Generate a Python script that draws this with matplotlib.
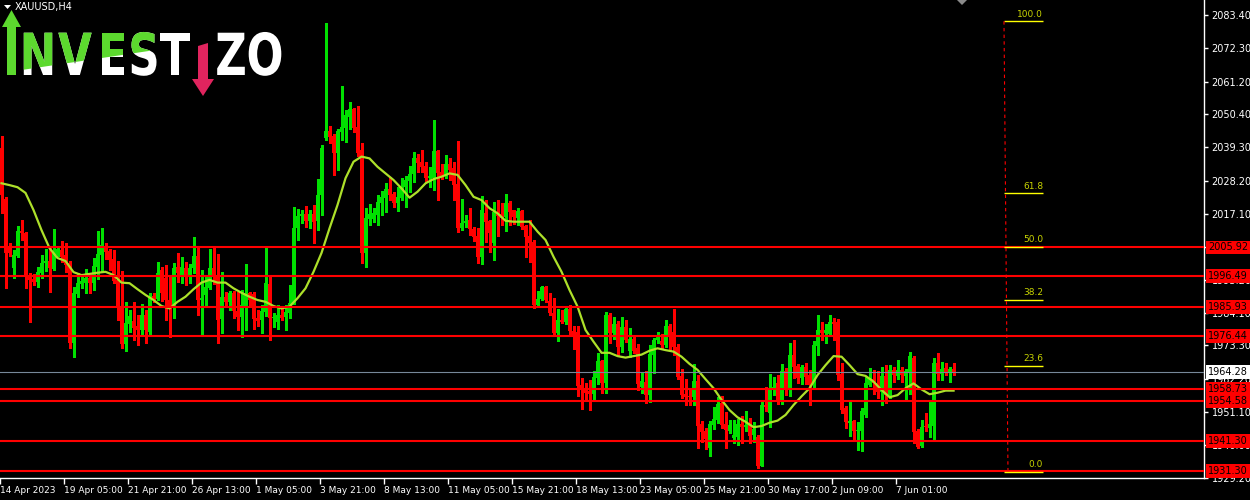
import matplotlib
matplotlib.use("Agg")
import matplotlib.pyplot as plt
import numpy as np
from matplotlib.patches import Polygon, PathPatch
from matplotlib.textpath import TextPath
from matplotlib.font_manager import FontProperties
from matplotlib.transforms import Affine2D, blended_transform_factory

# ---------------- data (XAUUSD H4) ----------------
opens = [
    2039.1, 2022.1, 2006.0, 1999.1, 2003.1, 2011.4, 2010.7, 1996.1, 1995.4, 1994.4,
    1997.4, 2000.7, 2001.4, 1998.7, 2003.4, 2005.1, 2003.4, 2000.7, 1974.1, 1990.4,
    1993.7, 1994.0, 1995.7, 1994.0, 1999.4, 2003.4, 2006.4, 2004.7, 2002.0, 1995.0,
    1986.0, 1973.7, 1980.4, 1981.4, 1979.7, 1978.4, 1983.4, 1977.7, 1989.7, 1988.7,
    1998.4, 1995.7, 1988.4, 1985.7, 1999.4, 1996.4, 1999.1, 1996.1, 1999.1, 2003.0,
    1988.4, 1990.1, 1992.4, 1999.1, 1996.7, 1982.1, 1989.4, 1987.7, 1990.7, 1984.9,
    1982.7, 1986.4, 1990.7, 1990.4, 1982.4, 1981.7, 1984.4, 1993.7, 1982.4, 1981.0,
    1983.4, 1982.7, 1984.1, 1987.1, 2012.4, 2016.4, 2017.0, 2014.7, 2017.1, 2014.7,
    2023.4, 2042.4, 2044.7, 2043.0, 2037.4, 2044.4, 2045.7, 2049.4, 2052.1, 2046.0,
    2038.4, 2004.1, 2015.4, 2015.4, 2016.7, 2020.7, 2022.4, 2025.4, 2023.7, 2020.7,
    2022.4, 2026.1, 2028.0, 2030.4, 2035.7, 2034.4, 2033.0, 2029.1, 2029.1, 2038.1,
    2031.0, 2030.0, 2033.7, 2032.4, 2027.0, 2012.4, 2014.1, 2015.1, 2012.1, 2009.7,
    2002.7, 2017.4, 2014.7, 2007.4, 2017.7, 2017.0, 2016.1, 2020.7, 2018.4, 2015.7,
    2018.1, 2013.0, 2009.7, 2007.7, 1986.7, 1988.7, 1992.7, 1988.0, 1984.1, 1977.4,
    1981.7, 1981.1, 1985.4, 1978.1, 1977.7, 1960.1, 1959.1, 1958.0, 1957.1, 1962.4,
    1968.1, 1960.7, 1983.4, 1977.4, 1980.4, 1972.7, 1979.4, 1971.4, 1975.4, 1972.4,
    1959.4, 1961.1, 1956.7, 1970.1, 1975.1, 1974.7, 1973.4, 1979.7, 1977.7, 1972.7,
    1963.0, 1957.0, 1956.4, 1956.1, 1961.4, 1947.1, 1944.7, 1939.1, 1946.7, 1948.4,
    1954.0, 1947.1, 1944.7, 1942.4, 1942.7, 1947.1, 1946.1, 1947.1, 1943.4, 1942.7,
    1933.1, 1953.4, 1950.7, 1958.4, 1960.7, 1954.7, 1964.7, 1958.4, 1970.1, 1966.4,
    1962.4, 1966.1, 1963.4, 1960.7, 1973.1, 1978.4, 1977.4, 1977.1, 1981.1, 1981.1,
    1963.7, 1952.4, 1947.4, 1948.1, 1944.7, 1944.7, 1950.1, 1960.1, 1962.1, 1960.7,
    1957.7, 1963.1, 1956.7, 1965.1, 1963.1, 1965.1, 1963.1, 1964.4, 1969.1, 1944.7,
    1939.7, 1946.4, 1945.7, 1946.4, 1967.4, 1963.7, 1965.7, 1964.4, 1965.4,
]
highs = [
    2043.0, 2022.7, 2007.4, 2005.1, 2013.1, 2015.1, 2011.1, 1997.4, 1997.1, 1999.4,
    2003.4, 2005.4, 2005.7, 2012.1, 2005.7, 2008.1, 2007.4, 2001.4, 1992.7, 1997.4,
    1997.1, 1998.7, 1997.4, 2002.4, 2011.4, 2012.4, 2007.4, 2005.4, 2005.0, 2001.4,
    1998.1, 1987.7, 1985.1, 1987.7, 1983.4, 1987.1, 1985.1, 1990.7, 1990.7, 2001.1,
    1999.4, 2000.0, 1996.7, 2000.7, 2004.1, 2002.7, 2001.1, 2000.4, 2009.4, 2006.4,
    1998.4, 1996.4, 2005.4, 2005.7, 2003.7, 1997.7, 1991.1, 1991.4, 1991.4, 1991.1,
    1991.7, 2000.4, 1991.1, 1991.1, 1985.1, 1986.7, 2006.1, 1996.4, 1984.1, 1986.7,
    1986.1, 1986.7, 1993.4, 2019.4, 2018.7, 2018.4, 2019.7, 2018.4, 2020.1, 2028.7,
    2040.1, 2080.7, 2046.4, 2043.7, 2045.4, 2059.7, 2051.7, 2054.4, 2052.4, 2053.0,
    2040.7, 2019.1, 2020.4, 2019.1, 2023.4, 2024.7, 2027.4, 2029.4, 2024.4, 2026.1,
    2029.1, 2029.7, 2033.1, 2037.7, 2037.1, 2038.4, 2034.4, 2032.7, 2048.4, 2038.4,
    2033.7, 2036.7, 2035.7, 2034.4, 2041.4, 2022.1, 2016.7, 2019.1, 2012.7, 2012.4,
    2023.0, 2021.7, 2015.1, 2021.1, 2021.7, 2020.7, 2023.7, 2021.4, 2018.4, 2019.1,
    2018.4, 2013.4, 2015.1, 2008.4, 1991.4, 1993.1, 1993.0, 1990.7, 1989.1, 1985.4,
    1985.1, 1986.1, 1986.7, 1979.7, 1979.7, 1962.4, 1960.7, 1961.7, 1964.7, 1970.7,
    1968.4, 1984.4, 1984.0, 1982.7, 1981.4, 1982.7, 1981.7, 1979.1, 1976.7, 1973.7,
    1964.0, 1964.7, 1973.4, 1975.7, 1977.7, 1977.1, 1981.7, 1980.4, 1985.4, 1973.7,
    1965.4, 1962.1, 1958.4, 1967.1, 1963.4, 1948.1, 1945.7, 1948.1, 1952.7, 1956.1,
    1956.4, 1951.1, 1948.4, 1948.4, 1948.7, 1949.7, 1951.4, 1949.1, 1947.7, 1943.4,
    1954.4, 1959.4, 1963.7, 1962.7, 1963.4, 1967.1, 1965.7, 1974.1, 1975.1, 1967.1,
    1966.7, 1967.4, 1965.1, 1974.7, 1983.4, 1981.1, 1980.4, 1983.4, 1982.4, 1982.1,
    1967.4, 1953.1, 1954.4, 1948.4, 1947.7, 1952.4, 1962.7, 1965.7, 1965.1, 1964.7,
    1966.1, 1966.7, 1966.7, 1966.1, 1968.4, 1966.1, 1965.4, 1971.1, 1969.7, 1945.4,
    1948.4, 1950.7, 1954.4, 1969.1, 1970.7, 1967.7, 1967.4, 1966.1, 1967.4,
]
lows = [
    2017.4, 1992.4, 2003.1, 1995.7, 2002.7, 2008.4, 1992.4, 1981.1, 1993.4, 1992.7,
    1995.7, 1998.1, 1991.1, 1998.4, 2003.0, 2001.1, 1997.7, 1972.4, 1969.4, 1989.4,
    1992.4, 1990.7, 1990.7, 1991.7, 1995.4, 1998.1, 2002.1, 1998.4, 1994.1, 1981.7,
    1972.4, 1971.4, 1977.7, 1975.0, 1973.4, 1976.7, 1974.1, 1976.4, 1987.7, 1988.4,
    1988.0, 1981.7, 1976.1, 1982.4, 1994.4, 1994.1, 1993.4, 1994.1, 1997.4, 1983.4,
    1976.7, 1986.7, 1992.1, 1993.7, 1974.1, 1977.4, 1986.7, 1985.0, 1982.4, 1978.4,
    1976.1, 1978.4, 1986.7, 1978.7, 1979.7, 1977.4, 1983.1, 1975.0, 1979.4, 1978.7,
    1981.7, 1978.4, 1982.4, 1987.1, 2008.4, 2014.1, 2012.7, 2012.4, 2007.4, 2011.7,
    2016.7, 2041.7, 2040.7, 2030.1, 2031.7, 2041.7, 2041.0, 2045.4, 2044.4, 2036.4,
    2000.7, 1999.4, 2013.4, 2014.4, 2013.4, 2016.7, 2017.7, 2021.7, 2019.4, 2018.0,
    2021.7, 2019.4, 2024.4, 2027.7, 2031.1, 2031.1, 2027.7, 2026.0, 2025.1, 2021.7,
    2028.7, 2029.1, 2028.4, 2021.7, 2011.1, 2011.7, 2012.7, 2010.1, 2008.1, 2000.7,
    2000.4, 2007.7, 2004.4, 2001.7, 2009.7, 2013.4, 2011.4, 2013.4, 2013.7, 2013.4,
    2012.1, 2002.7, 2001.1, 1985.7, 1986.0, 1988.4, 1987.7, 1983.4, 1977.1, 1974.7,
    1980.7, 1980.4, 1977.0, 1972.1, 1956.4, 1952.1, 1955.4, 1951.7, 1954.7, 1960.4,
    1957.4, 1957.4, 1974.1, 1975.4, 1970.0, 1971.1, 1974.4, 1969.4, 1970.7, 1958.4,
    1957.4, 1954.1, 1954.4, 1964.0, 1974.1, 1972.4, 1972.7, 1971.7, 1970.1, 1962.1,
    1955.7, 1953.4, 1953.4, 1953.4, 1939.1, 1941.1, 1938.7, 1936.4, 1945.4, 1947.4,
    1945.7, 1939.1, 1944.0, 1940.7, 1940.0, 1940.7, 1944.7, 1940.7, 1941.0, 1932.4,
    1933.1, 1951.4, 1946.1, 1956.7, 1953.7, 1953.7, 1956.7, 1956.4, 1962.4, 1960.7,
    1960.4, 1960.4, 1953.4, 1959.1, 1970.1, 1975.1, 1974.1, 1976.4, 1975.1, 1961.7,
    1950.7, 1945.7, 1943.1, 1941.7, 1938.4, 1938.1, 1949.4, 1959.7, 1957.1, 1955.7,
    1953.4, 1954.1, 1955.7, 1961.1, 1962.1, 1961.1, 1954.7, 1957.1, 1940.7, 1939.1,
    1939.4, 1944.7, 1942.7, 1941.7, 1961.7, 1961.7, 1963.4, 1961.1, 1963.4,
]
closes = [
    2023.4, 2004.1, 2004.1, 2003.4, 2011.4, 2010.7, 1996.1, 1995.1, 1994.4, 1997.8,
    2000.7, 2001.4, 1999.1, 2004.1, 2005.4, 2002.7, 2000.1, 1974.1, 1990.7, 1994.1,
    1994.7, 1995.7, 1994.1, 1999.7, 2003.7, 2006.7, 2004.4, 2001.7, 1994.7, 1986.1,
    1973.7, 1980.7, 1983.1, 1979.1, 1978.4, 1983.4, 1978.4, 1989.7, 1988.7, 1997.4,
    1990.7, 1988.4, 1985.7, 1999.1, 1997.4, 1999.4, 1996.1, 1999.1, 2003.1, 1988.4,
    1989.0, 1992.7, 1999.1, 1996.7, 1981.7, 1989.4, 1987.7, 1990.7, 1984.7, 1982.7,
    1986.7, 1990.7, 1988.4, 1982.1, 1981.4, 1984.7, 1994.1, 1982.4, 1982.7, 1983.4,
    1982.4, 1984.4, 1987.4, 2012.4, 2016.4, 2017.1, 2014.7, 2017.1, 2014.4, 2023.4,
    2039.1, 2044.7, 2042.7, 2037.4, 2044.7, 2046.1, 2050.1, 2052.1, 2045.7, 2037.4,
    2004.1, 2015.7, 2017.1, 2017.4, 2021.0, 2022.7, 2025.4, 2023.4, 2020.7, 2022.7,
    2026.4, 2028.4, 2030.4, 2035.7, 2034.1, 2032.7, 2029.1, 2029.7, 2038.1, 2030.7,
    2029.4, 2033.7, 2031.7, 2026.7, 2012.4, 2014.1, 2014.7, 2012.1, 2009.4, 2002.7,
    2018.4, 2014.4, 2010.7, 2017.7, 2016.4, 2015.7, 2020.7, 2017.7, 2016.1, 2018.1,
    2012.7, 2009.4, 2007.4, 1986.7, 1988.7, 1992.7, 1988.4, 1984.1, 1977.4, 1981.7,
    1981.1, 1985.4, 1978.1, 1976.7, 1959.7, 1958.7, 1957.4, 1957.0, 1962.7, 1968.1,
    1960.7, 1983.4, 1977.4, 1980.4, 1972.7, 1979.4, 1975.1, 1975.4, 1971.4, 1960.4,
    1961.4, 1956.7, 1970.4, 1975.1, 1976.1, 1973.4, 1979.7, 1976.1, 1972.7, 1962.7,
    1956.7, 1956.0, 1956.1, 1961.4, 1946.4, 1944.4, 1942.1, 1947.1, 1948.7, 1953.7,
    1946.7, 1945.0, 1946.7, 1943.4, 1947.1, 1946.1, 1946.7, 1943.1, 1945.4, 1933.1,
    1953.4, 1952.7, 1958.7, 1959.4, 1954.7, 1964.7, 1958.4, 1970.1, 1966.1, 1962.4,
    1966.1, 1962.7, 1960.1, 1973.4, 1978.4, 1977.4, 1978.4, 1981.1, 1980.4, 1963.4,
    1951.7, 1947.7, 1948.1, 1944.7, 1945.1, 1951.4, 1960.7, 1962.1, 1960.7, 1957.7,
    1963.1, 1956.7, 1965.1, 1963.4, 1965.1, 1963.4, 1964.7, 1969.7, 1944.4, 1939.4,
    1946.1, 1946.1, 1947.1, 1967.4, 1963.7, 1965.4, 1964.4, 1965.4, 1964.28,
]
# moving average line, one reading every 2 bars
ma_values = [
    2027.3, 2026.7, 2026.0, 2024.1, 2018.4, 2011.7, 2005.7, 2002.4, 2001.4, 1997.7,
    1996.7, 1997.1, 1997.5, 1997.8, 1996.7, 1994.2, 1994.0, 1992.0, 1990.1, 1988.4,
    1986.4, 1985.6, 1987.8, 1989.5, 1992.0, 1994.2, 1995.1, 1994.2, 1994.2, 1992.3,
    1990.8, 1989.5, 1988.4, 1987.8, 1986.4, 1985.6, 1986.2, 1989.0, 1992.3, 1997.8,
    2004.1, 2012.3, 2020.1, 2029.0, 2034.5, 2036.2, 2035.6, 2032.8, 2030.6, 2028.4,
    2025.6, 2022.5, 2024.5, 2027.3, 2028.7, 2029.5, 2030.6, 2030.1, 2026.7, 2022.8,
    2021.7, 2019.0, 2017.3, 2014.8, 2014.5, 2014.5, 2014.5, 2011.2, 2008.4, 2002.8,
    1997.8, 1991.7, 1986.2, 1978.4, 1974.5, 1970.8, 1970.8, 1969.7, 1969.2, 1969.7,
    1970.2, 1971.5, 1972.3, 1971.7, 1971.2, 1969.5, 1967.1, 1965.1, 1962.0, 1959.0,
    1955.1, 1951.7, 1949.3, 1947.8, 1946.0, 1946.4, 1947.5, 1948.2, 1950.1, 1953.4,
    1956.3, 1959.0, 1963.4, 1966.7, 1969.7, 1969.5, 1966.7, 1963.7, 1963.1, 1961.2,
    1958.4, 1956.0, 1956.7, 1959.0, 1960.6, 1958.6, 1957.0, 1957.5, 1958.2, 1958.2,
]
level_prices = [2005.92, 1996.49, 1985.93, 1976.44, 1958.73, 1954.58, 1941.30, 1931.30]
current_price = 1964.28
price_ticks = [2083.40, 2072.30, 2061.20, 2050.40, 2039.30, 2028.20, 2017.10, 2006.00,
               1995.20, 1984.10, 1973.30, 1962.20, 1951.10, 1940.00, 1929.20]
time_labels = ["14 Apr 2023", "19 Apr 05:00", "21 Apr 21:00", "26 Apr 13:00", "1 May 05:00",
               "3 May 21:00", "8 May 13:00", "11 May 05:00", "15 May 21:00", "18 May 13:00",
               "23 May 05:00", "25 May 21:00", "30 May 17:00", "2 Jun 09:00", "7 Jun 01:00"]
time_label_bars = [0, 16, 32, 48, 64, 80, 96, 112, 128, 144, 160, 176, 192, 208, 224]
fib_low, fib_high = 1931.1, 2081.3
fib_levels = [0.0, 23.6, 38.2, 50.0, 61.8, 100.0]
symbol_label = "XAUUSD,H4"

# ---------------- styling ----------------
BG = "black"
GREEN = "#00e000"
RED = "#ff0000"
MA_COLOR = "#ade02a"
FIB_LINE = "#ffff00"
FIB_TEXT = "#c8d400"

fig = plt.figure(figsize=(12.5, 5), dpi=100, facecolor=BG)
ax = fig.add_axes([0, 22 / 500, 1204 / 1250, 478 / 500])
ax.set_facecolor(BG)
ax.set_xlim(-0.375, 300.6)
ax.set_ylim(1929.07, 2088.4)

o = np.array(opens); h = np.array(highs); l = np.array(lows); c = np.array(closes)
idx = np.arange(len(c))
up = c >= o
cols = np.where(up, GREEN, RED)
ax.vlines(idx, l, h, colors=cols, linewidth=0.9, zorder=2, antialiased=False)
body = np.maximum(np.abs(c - o), 0.34)
ax.bar(idx, body, bottom=np.minimum(o, c), width=0.75, color=cols, linewidth=0,
       zorder=2.2, antialiased=False)

ax.plot(np.arange(len(ma_values)) * 2, ma_values, color=MA_COLOR, lw=1.6, zorder=2.5,
        solid_joinstyle="round")

for p in level_prices:
    ax.axhline(p, color=RED, lw=1.5, zorder=3)
ax.axhline(current_price, color="#778899", lw=0.8, zorder=2.9)

# fibonacci retracement
fx0, fx1 = 250.6, 260.4
for lv in fib_levels:
    p = fib_low + (fib_high - fib_low) * lv / 100.0
    ax.hlines(p, fx0, fx1, color=FIB_LINE, lw=1.0, zorder=4)
    ax.text(fx1, p + 0.9, f"{lv:.1f}", color=FIB_TEXT, fontsize=6.5, ha="right",
            va="bottom", zorder=4)
ax.plot([fx0, fx0 + 1.0], [fib_high, fib_low], color=RED, lw=0.8, ls=(0, (3, 3)), zorder=4)

# axes
for s in ["left", "top"]:
    ax.spines[s].set_visible(False)
for s in ["bottom", "right"]:
    ax.spines[s].set_color("white")
    ax.spines[s].set_linewidth(1.0)
ax.yaxis.tick_right()
ax.set_yticks(price_ticks, labels=[f"{v:.2f}" for v in price_ticks])
ax.tick_params(axis="y", colors="white", labelcolor="white", length=3, width=1,
               labelsize=7, pad=2.5)
ax.set_xticks(np.array(time_label_bars) - 0.375, labels=time_labels)
ax.tick_params(axis="x", colors="white", labelcolor="white", length=4, width=1,
               labelsize=6.5, pad=2)
for t in ax.get_xticklabels():
    t.set_ha("left")

# price labels on the right scale
bt = blended_transform_factory(ax.transAxes, ax.transData)
for p in level_prices:
    ax.text(1.0033, p, f"{p:.2f}", transform=bt, ha="left", va="center", fontsize=7,
            color="black", zorder=6, clip_on=False,
            bbox=dict(boxstyle="square,pad=0.2", fc=RED, ec="none"))
ax.text(1.0033, current_price, f"{current_price:.2f}", transform=bt, ha="left",
        va="center", fontsize=7, color="black", zorder=6, clip_on=False,
        bbox=dict(boxstyle="square,pad=0.2", fc="white", ec="none"))

# ---------------- overlay (pixel coords) ----------------
ov = fig.add_axes([0, 0, 1, 1], zorder=5)
ov.set_xlim(0, 1250)
ov.set_ylim(500, 0)
ov.axis("off")
ov.patch.set_visible(False)

ov.add_patch(Polygon([(4, 5), (11, 5), (7.5, 9)], closed=True, fc="white", ec="none"))
ov.text(15, 7, symbol_label, color="white", fontsize=7, va="center", ha="left")
ov.add_patch(Polygon([(957, 0), (967, 0), (962, 5)], closed=True, fc="#8a8a8a", ec="none"))

LOGO_GREEN = "#5cd92e"
LOGO_RED = "#e0245e"
fp = FontProperties(family="DejaVu Sans", weight="bold")
clip_poly = Polygon([(0, 0), (162, 0), (162, 49), (15, 71), (0, 71)], closed=True,
                    transform=ov.transData)


def logo_letter(ch, cx, two_tone, size=58, sx=0.75, base=75):
    tp = TextPath((0, 0), ch, size=size, prop=fp)
    bb = tp.get_extents()
    tr = Affine2D().translate(-(bb.x0 + bb.x1) / 2, 0).scale(sx, -1).translate(cx, base)
    path = tr.transform_path(tp)
    ov.add_patch(PathPatch(path, fc="white", ec="none", zorder=5))
    if two_tone:
        g = PathPatch(path, fc=LOGO_GREEN, ec="none", zorder=6)
        ov.add_patch(g)
        g.set_clip_path(clip_poly)


for ch, cx, tt in [("N", 38, True), ("V", 75, True), ("E", 113, True), ("S", 144, True),
                   ("T", 175, False), ("Z", 231, False), ("O", 265, False)]:
    logo_letter(ch, cx, tt)

ov.add_patch(Polygon([(7, 75), (16, 75), (16, 27), (21, 27), (11.5, 10), (2, 27), (7, 27)],
                     closed=True, fc=LOGO_GREEN, ec="none", zorder=6))
ov.add_patch(Polygon([(198, 46), (208, 43), (208, 79), (214, 79), (203, 96), (192, 79),
                      (198, 79)], closed=True, fc=LOGO_RED, ec="none", zorder=6))

fig.savefig("out.png", dpi=100, facecolor=BG)
